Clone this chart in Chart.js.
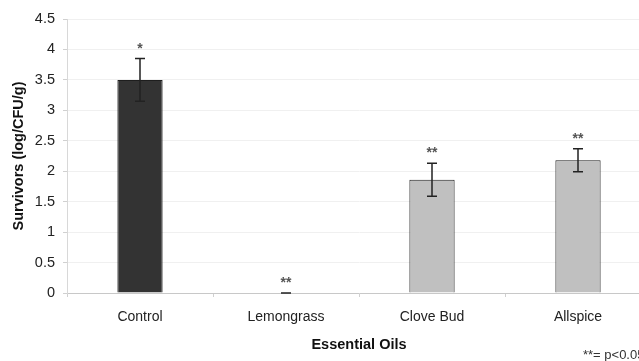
<!DOCTYPE html>
<html>
<head>
<meta charset="utf-8">
<script src="https://cdn.jsdelivr.net/npm/chart.js@4/dist/chart.umd.min.js"></script>
<style>
  html, body { margin: 0; padding: 0; background: #fff; overflow: hidden; }
  #wrap { width: 652px; height: 361px; }
</style>
</head>
<body>
<div id="wrap"><canvas id="chart" width="652" height="361"></canvas></div>
<script>
const categories = ['Control', 'Lemongrass', 'Clove Bud', 'Allspice'];
const survivors = [3.5, 0, 1.86, 2.18];
const errors = [0.35, 0, 0.27, 0.19];
const marks = ['*', '**', '**', '**'];
const barColors = ['#333333', '#c0c0c0', '#c0c0c0', '#c0c0c0'];

const FONT = '"Liberation Sans", Arial, sans-serif';

// error bars + significance stars drawn from the scales
const errorBars = {
  id: 'errorBars',
  afterDatasetsDraw(chart) {
    const { ctx, scales: { x, y } } = chart;
    ctx.save();
    ctx.strokeStyle = '#222';
    ctx.lineWidth = 1.5;
    survivors.forEach((v, i) => {
      const cx = x.getPixelForValue(i);
      const top = y.getPixelForValue(v + errors[i]);
      const bot = y.getPixelForValue(v - errors[i]);
      ctx.beginPath();
      ctx.moveTo(cx, top);
      ctx.lineTo(cx, bot);
      ctx.moveTo(cx - 5, top);
      ctx.lineTo(cx + 5, top);
      ctx.moveTo(cx - 5, bot);
      ctx.lineTo(cx + 5, bot);
      ctx.stroke();
      ctx.fillStyle = '#555';
      ctx.font = 'bold 14px ' + FONT;
      ctx.textAlign = 'center';
      ctx.textBaseline = 'alphabetic';
      ctx.fillText(marks[i], cx, top - 6);
    });
    ctx.fillStyle = '#333';
    ctx.font = '13px ' + FONT;
    ctx.textAlign = 'left';
    ctx.textBaseline = 'middle';
    ctx.fillText('**= p<0.05', 583, 355);
    ctx.restore();
  },
};

new Chart(document.getElementById('chart'), {
  type: 'bar',
  data: {
    labels: categories,
    datasets: [{
      data: survivors,
      backgroundColor: barColors,
      borderColor: '#1e1e1e',
      borderWidth: 1,
      categoryPercentage: 1,
      barPercentage: 0.31,
    }],
  },
  options: {
    responsive: false,
    animation: false,
    layout: { padding: { top: 19, right: 1, left: 0, bottom: 0 } },
    plugins: {
      legend: { display: false },
      tooltip: { enabled: false },
    },
    scales: {
      x: {
        grid: {
          offset: true,
          drawOnChartArea: false,
          tickLength: 4,
          color: '#d0d0d0',
        },
        border: { color: '#c8c8c8' },
        ticks: {
          color: '#222',
          font: { family: FONT, size: 14 },
          padding: 12,
        },
        title: {
          display: true,
          text: 'Essential Oils',
          color: '#111',
          font: { family: FONT, size: 14.5, weight: 'bold' },
          padding: { top: 0, bottom: 7 },
        },
        afterFit(scale) { scale.height = 68; },
      },
      y: {
        min: 0,
        max: 4.5,
        ticks: {
          stepSize: 0.5,
          color: '#222',
          font: { family: FONT, size: 14.5 },
          padding: 8,
          callback: (v) => String(v),
        },
        grid: {
          color: '#f0f0f0',
          tickColor: '#d0d0d0',
          tickLength: 4,
        },
        border: { color: '#d8d8d8' },
        title: {
          display: true,
          text: 'Survivors (log/CFU/g)',
          color: '#111',
          font: { family: FONT, size: 14.5, weight: 'bold' },
          padding: { top: 10, bottom: 0 },
        },
        afterFit(scale) { scale.width = 67; },
      },
    },
  },
  plugins: [errorBars],
});
</script>
</body>
</html>
